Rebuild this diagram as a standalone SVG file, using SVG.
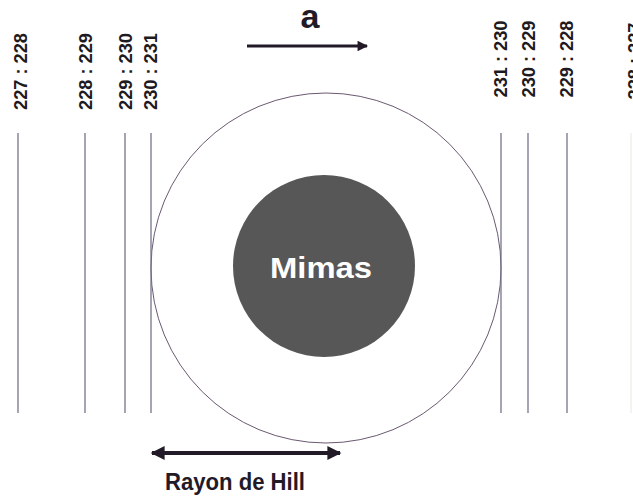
<svg xmlns="http://www.w3.org/2000/svg" width="633" height="500" viewBox="0 0 633 500">
<defs>
<style>
.lbl{font-family:"Liberation Sans",Arial,sans-serif;font-weight:bold;font-size:19px;fill:#1e1a22;text-anchor:middle}
.ln{stroke:#76748a;stroke-width:1.3;fill:none}
.ar{stroke:#231a28;fill:none}
</style>
<marker id="ah" viewBox="0 0 10 10" refX="9" refY="5" markerWidth="4" markerHeight="3.5" orient="auto-start-reverse" markerUnits="strokeWidth">
<path d="M0,0 L10,5 L0,10 z" fill="#231a28"/>
</marker>
</defs>
<rect width="633" height="500" fill="#ffffff"/>
<g id="hill-sphere">
<circle cx="326" cy="268" r="175" fill="none" stroke="#6a5a70" stroke-width="1"/>
</g>
<g id="mimas">
<circle cx="324" cy="266" r="91" fill="#575757"/>
<text x="321" y="278" font-family="Liberation Sans,Arial,sans-serif" font-weight="bold" font-size="30" fill="#ffffff" text-anchor="middle" textLength="102" lengthAdjust="spacingAndGlyphs">Mimas</text>
</g>
<g id="orbits">
<line class="ln" x1="18" y1="133" x2="18" y2="413"/>
<line class="ln" x1="85" y1="133" x2="85" y2="413"/>
<line class="ln" x1="125" y1="133" x2="125" y2="413"/>
<line class="ln" x1="151" y1="133" x2="151" y2="413"/>
<line class="ln" x1="501" y1="133" x2="501" y2="413"/>
<line class="ln" x1="528" y1="133" x2="528" y2="413"/>
<line class="ln" x1="567" y1="133" x2="567" y2="413"/>
<line x1="631" y1="133" x2="631" y2="413" stroke="#eeeee6" stroke-width="1.3"/>
</g>
<g id="labels">
<text class="lbl" transform="translate(27,71.5) rotate(-90)" textLength="77" lengthAdjust="spacingAndGlyphs">227 : 228</text>
<text class="lbl" transform="translate(92,71.5) rotate(-90)" textLength="77" lengthAdjust="spacingAndGlyphs">228 : 229</text>
<text class="lbl" transform="translate(132,71.5) rotate(-90)" textLength="77" lengthAdjust="spacingAndGlyphs">229 : 230</text>
<text class="lbl" transform="translate(157,71.5) rotate(-90)" textLength="77" lengthAdjust="spacingAndGlyphs">230 : 231</text>
<text class="lbl" transform="translate(507,59) rotate(-90)" textLength="77" lengthAdjust="spacingAndGlyphs">231 : 230</text>
<text class="lbl" transform="translate(535,59) rotate(-90)" textLength="77" lengthAdjust="spacingAndGlyphs">230 : 229</text>
<text class="lbl" transform="translate(573,59) rotate(-90)" textLength="77" lengthAdjust="spacingAndGlyphs">229 : 228</text>
<text class="lbl" transform="translate(641,61) rotate(-90)" textLength="77" lengthAdjust="spacingAndGlyphs">228 : 227</text>
</g>
<g id="connectors">
<line class="ar" x1="247" y1="46" x2="367" y2="46" stroke-width="3" marker-end="url(#ah)"/>
<line class="ar" x1="152" y1="453" x2="340" y2="453" stroke-width="4" marker-start="url(#ah)" marker-end="url(#ah)"/>
</g>
<g id="text-labels">
<text x="310" y="28" font-family="Liberation Sans,Arial,sans-serif" font-weight="bold" font-size="34" fill="#231a28" text-anchor="middle">a</text>
<text x="235" y="490" font-family="Liberation Sans,Arial,sans-serif" font-weight="bold" font-size="24" fill="#231a28" text-anchor="middle" textLength="140" lengthAdjust="spacingAndGlyphs">Rayon de Hill</text>
</g>
</svg>
